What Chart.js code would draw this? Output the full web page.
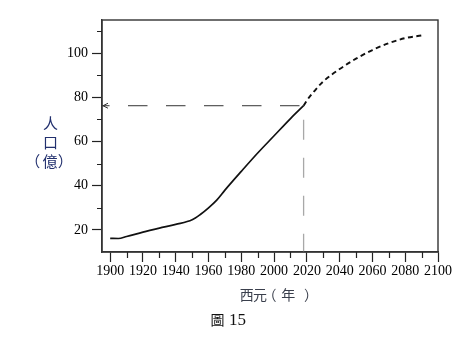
<!DOCTYPE html>
<html>
<head>
<meta charset="utf-8">
<script src="https://cdn.jsdelivr.net/npm/chart.js@4.4.1/dist/chart.umd.min.js"></script>
<style>
  html, body { margin: 0; padding: 0; background: #fff; }
  canvas { display: block; }
</style>
</head>
<body>
<canvas id="c" width="463" height="337"></canvas>
<script>
// World population (hundred millions) — recorded part
const pastYears = [1900, 1905, 1910, 1920, 1930, 1940, 1950, 1955, 1960, 1965, 1970, 1980, 1990, 2000, 2010, 2018];
const pastPopulation = [16.2, 16.1, 17.0, 19.0, 20.8, 22.5, 24.6, 27.0, 30.0, 33.5, 38.0, 46.5, 54.8, 62.6, 70.4, 76.2];

// Projected part
const projYears = [2018, 2020, 2025, 2030, 2040, 2050, 2060, 2070, 2080, 2090];
const projPopulation = [76.2, 78.6, 83.2, 87.2, 92.8, 97.5, 101.4, 104.5, 106.8, 108.0];

// Marked year and its population (guide lines)
const markYear = 2018;
const markPopulation = 76.2;

// Axis ticks
const xTickYears = [1900, 1920, 1940, 1960, 1980, 2000, 2020, 2040, 2060, 2080, 2100];
const xMinorYears = [1910, 1930, 1950, 1970, 1990, 2010, 2030, 2050, 2070, 2090];
const yTickValues = [20, 40, 60, 80, 100];
const yMinorValues = [30, 50, 70, 90, 110];

// Text (glyph, x centre, y centre)
const yTitleParts = [['人', 50.5, 123], ['口', 50.5, 142.5], ['（', 32.8, 161.5], ['億', 50, 161.5], ['）', 65.3, 161.5]];
const xTitleParts = [['西', 246.7], ['元', 260], ['（', 269.5], ['年', 288.3], ['）', 311]];
const captionWord = '圖';
const captionNumber = '15';

const X_MIN = 1895, X_MAX = 2100, Y_MIN = 10, Y_MAX = 115;

const toPoints = (xs, ys) => xs.map((x, i) => ({ x: x, y: ys[i] }));

const serif = "'Liberation Serif', 'Times New Roman', serif";
const cjk = "'Noto Sans CJK TC', 'Noto Sans CJK SC', sans-serif";

const frameAndDecor = {
  id: 'frameAndDecor',
  afterDatasetsDraw(chart) {
    const ctx = chart.ctx;
    const a = chart.chartArea;
    const xs = chart.scales.x, ys = chart.scales.y;
    ctx.save();

    // box around the plot
    ctx.strokeStyle = '#333';
    ctx.lineWidth = 1.4;
    ctx.strokeRect(a.left, a.top, a.right - a.left, a.bottom - a.top);

    // minor ticks
    ctx.strokeStyle = '#222';
    ctx.lineWidth = 1.2;
    ctx.beginPath();
    xMinorYears.forEach(v => {
      const px = Math.round(xs.getPixelForValue(v)) + 0.5;
      ctx.moveTo(px, a.bottom);
      ctx.lineTo(px, a.bottom + 6);
    });
    yMinorValues.forEach(v => {
      const py = Math.round(ys.getPixelForValue(v)) + 0.5;
      ctx.moveTo(a.left, py);
      ctx.lineTo(a.left - 5, py);
    });
    ctx.stroke();

    // arrow head at the left end of the horizontal guide
    const ay = ys.getPixelForValue(markPopulation);
    const ax = xs.getPixelForValue(X_MIN) + 1;
    ctx.strokeStyle = '#333';
    ctx.lineWidth = 1;
    ctx.beginPath();
    ctx.moveTo(ax + 5, ay - 2.5);
    ctx.lineTo(ax, ay);
    ctx.lineTo(ax + 5, ay + 2.5);
    ctx.stroke();
    ctx.restore();
  },
  afterDraw(chart) {
    const ctx = chart.ctx;
    ctx.save();
    ctx.textBaseline = 'middle';
    ctx.textAlign = 'center';

    // vertical y title
    ctx.fillStyle = '#22306e';
    ctx.font = '15px ' + cjk;
    yTitleParts.forEach(([t, x, y]) => ctx.fillText(t, x, y));

    // x title
    ctx.fillStyle = '#3a3f4c';
    ctx.font = '14px ' + cjk;
    xTitleParts.forEach(([t, x]) => ctx.fillText(t, x, 295));

    // caption
    ctx.fillStyle = '#111';
    ctx.textAlign = 'left';
    ctx.font = '14px ' + cjk;
    ctx.fillText(captionWord, 210.5, 320);
    ctx.font = '17px ' + serif;
    ctx.fillText(captionNumber, 229, 320.5);
    ctx.restore();
  }
};

new Chart(document.getElementById('c'), {
  type: 'line',
  data: {
    datasets: [
      {
        data: toPoints(pastYears, pastPopulation),
        borderColor: '#111',
        borderWidth: 1.7,
        pointRadius: 0,
        cubicInterpolationMode: 'monotone',
        fill: false
      },
      {
        data: toPoints(projYears, projPopulation),
        borderColor: '#111',
        borderWidth: 1.9,
        borderDash: [5, 3.5],
        pointRadius: 0,
        cubicInterpolationMode: 'monotone',
        fill: false
      },
      {
        // horizontal guide to the y axis
        data: [{ x: X_MIN, y: markPopulation }, { x: markYear, y: markPopulation }],
        borderColor: '#333',
        borderWidth: 1,
        borderDash: [19.5, 18.5],
        borderDashOffset: 12,
        pointRadius: 0,
        tension: 0,
        fill: false
      },
      {
        // vertical guide down to the x axis
        data: [{ x: markYear, y: markPopulation }, { x: markYear, y: Y_MIN }],
        borderColor: '#a8a8a8',
        borderWidth: 1.3,
        borderDash: [20, 18],
        borderDashOffset: 24,
        pointRadius: 0,
        tension: 0,
        fill: false
      }
    ]
  },
  options: {
    responsive: false,
    animation: false,
    devicePixelRatio: 1,
    layout: { padding: { left: 0, top: 20, right: 25, bottom: 55 } },
    plugins: { legend: { display: false }, tooltip: { enabled: false } },
    scales: {
      x: {
        type: 'linear',
        min: X_MIN,
        max: X_MAX,
        afterBuildTicks: s => { s.ticks = xTickYears.map(v => ({ value: v })); },
        afterFit: s => { s.height = 30; },
        border: { display: true, color: '#333', width: 1.4 },
        grid: { drawOnChartArea: false, drawTicks: true, tickLength: 10, tickColor: '#222', tickWidth: 1.2 },
        ticks: {
          color: '#000',
          font: { family: serif, size: 14 },
          padding: 1,
          maxRotation: 0,
          autoSkip: false,
          callback: v => String(v)
        }
      },
      y: {
        type: 'linear',
        min: Y_MIN,
        max: Y_MAX,
        afterBuildTicks: s => { s.ticks = yTickValues.map(v => ({ value: v })); },
        afterFit: s => { s.width = 102; },
        border: { display: true, color: '#333', width: 1.4 },
        grid: { drawOnChartArea: false, drawTicks: true, tickLength: 10, tickColor: '#222', tickWidth: 1.2 },
        ticks: {
          color: '#000',
          font: { family: serif, size: 14 },
          padding: 4,
          autoSkip: false,
          callback: v => String(v)
        }
      }
    }
  },
  plugins: [{
    id: 'whiteBg',
    beforeDraw(chart) {
      const c = chart.ctx;
      c.save();
      c.fillStyle = '#fff';
      c.fillRect(0, 0, chart.width, chart.height);
      c.restore();
    }
  }, frameAndDecor]
});
</script>
</body>
</html>
